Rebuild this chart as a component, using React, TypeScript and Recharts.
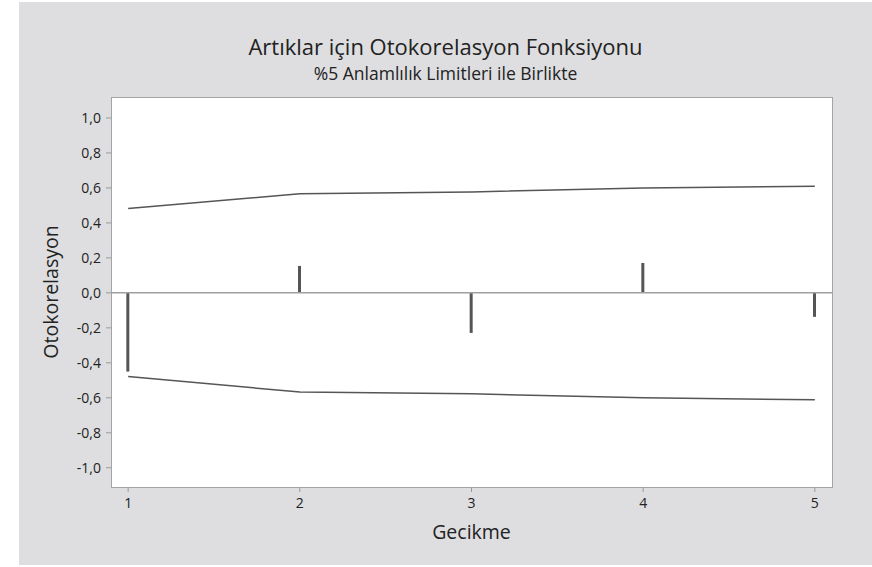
import React from "react";
import {
  ComposedChart,
  Bar,
  Line,
  XAxis,
  YAxis,
  ReferenceLine,
  Label,
} from "recharts";

const lags = [1, 2, 3, 4, 5];
const acfValues = [-0.45, 0.154, -0.229, 0.171, -0.137];
const upperLimits = [0.483, 0.567, 0.577, 0.6, 0.61];
const lowerLimits = [-0.478, -0.567, -0.577, -0.6, -0.611];
const yTicks = [-1.0, -0.8, -0.6, -0.4, -0.2, 0.0, 0.2, 0.4, 0.6, 0.8, 1.0];
const xTicks = [1, 2, 3, 4, 5];

const title = "Artıklar için Otokorelasyon Fonksiyonu";
const subtitle = "%5 Anlamlılık Limitleri ile Birlikte";
const xLabel = "Gecikme";
const yLabel = "Otokorelasyon";

const data = lags.map((lag, i) => ({
  lag,
  acf: acfValues[i],
  upper: upperLimits[i],
  lower: lowerLimits[i],
}));

const FONT = "'Open Sans', 'Noto Sans', sans-serif";
const fmt = (v: number) => {
  const s = (Math.abs(v) < 1e-9 ? 0 : v).toFixed(1).replace(".", ",");
  return s;
};

export default function App() {
  const plotLeft = 111;
  const plotTop = 97;
  const plotRight = 832;
  const plotBottom = 487;
  const yAxisWidth = 60;
  const xAxisHeight = 60;
  return (
    <div
      style={{
        position: "absolute",
        left: 0,
        top: 0,
        width: 872,
        height: 567,
        background: "#ffffff",
        overflow: "hidden",
        fontFamily: FONT,
      }}
    >
      <div
        style={{
          position: "absolute",
          left: 19,
          top: 2,
          width: 853,
          height: 563,
          background: "#dedee0",
        }}
      />
      <div
        style={{
          position: "absolute",
          left: plotLeft,
          top: plotTop,
          width: plotRight - plotLeft + 1,
          height: plotBottom - plotTop + 1,
          background: "#ffffff",
          border: "1px solid #a4a4a6",
          boxSizing: "border-box",
        }}
      />
      <div
        style={{
          position: "absolute",
          left: 19,
          width: 853,
          top: 31,
          textAlign: "center",
          fontSize: 22,
          color: "#222222",
          lineHeight: "30px",
        }}
      >
        {title}
      </div>
      <div
        style={{
          position: "absolute",
          left: 19,
          width: 853,
          top: 61,
          textAlign: "center",
          fontSize: 17.5,
          color: "#222222",
          lineHeight: "24px",
        }}
      >
        {subtitle}
      </div>
      <div style={{ position: "absolute", left: 0, top: 0 }}>
        <ComposedChart
          width={872}
          height={567}
          data={data}
          margin={{
            top: plotTop,
            left: plotLeft - yAxisWidth,
            right: 872 - plotRight,
            bottom: 567 - plotBottom - xAxisHeight,
          }}
        >
          <XAxis
            dataKey="lag"
            type="number"
            domain={[0.9, 5.1]}
            ticks={xTicks}
            allowDataOverflow
            height={xAxisHeight}
            axisLine={false}
            tickLine={{ stroke: "#9a9a9a" }}
            tickSize={5}
            tickMargin={6}
            tick={{ fill: "#222222", fontSize: 14, fontFamily: FONT }}
          >
            <Label
              value={xLabel}
              position="insideBottom"
              offset={8}
              style={{ fill: "#222222", fontSize: 19.5, fontFamily: FONT }}
            />
          </XAxis>
          <YAxis
            type="number"
            domain={[-1.11, 1.12]}
            ticks={yTicks}
            allowDataOverflow
            width={yAxisWidth}
            axisLine={false}
            tickLine={{ stroke: "#9a9a9a" }}
            tickSize={5}
            tickMargin={5}
            tickFormatter={fmt}
            tick={{ fill: "#222222", fontSize: 14, fontFamily: FONT }}
          >
            <Label
              value={yLabel}
              angle={-90}
              position="insideLeft"
              offset={0}
              dx={0}
              style={{
                fill: "#222222",
                fontSize: 19.5,
                fontFamily: FONT,
                textAnchor: "middle",
              }}
            />
          </YAxis>
          <ReferenceLine y={0} stroke="#a0a0a0" strokeWidth={1.5} />
          <Bar
            dataKey="acf"
            barSize={3}
            fill="#555555"
            isAnimationActive={false}
          />
          <Line
            dataKey="upper"
            type="linear"
            stroke="#555555"
            strokeWidth={1.5}
            dot={false}
            isAnimationActive={false}
          />
          <Line
            dataKey="lower"
            type="linear"
            stroke="#555555"
            strokeWidth={1.5}
            dot={false}
            isAnimationActive={false}
          />
        </ComposedChart>
      </div>
    </div>
  );
}
